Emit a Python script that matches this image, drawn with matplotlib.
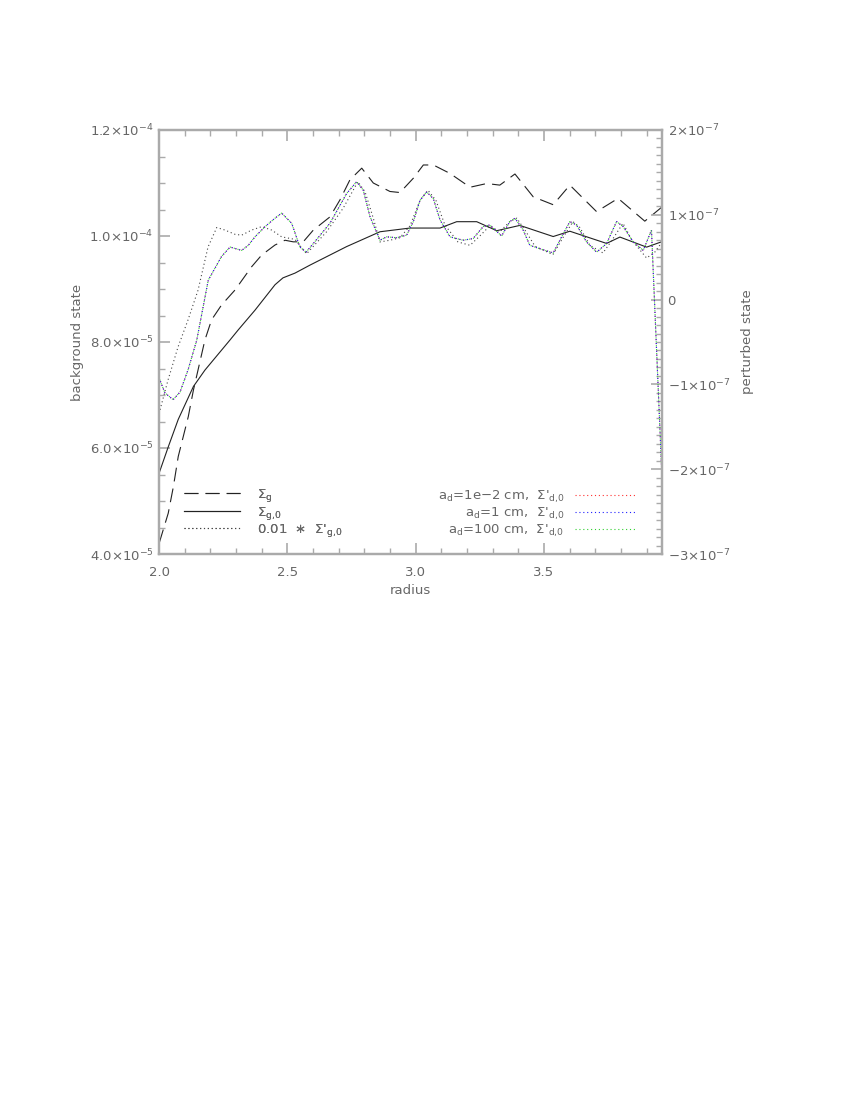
import matplotlib
matplotlib.use("Agg")
import matplotlib.pyplot as plt
from matplotlib.lines import Line2D
from matplotlib.ticker import FixedLocator, FixedFormatter, MultipleLocator

# ---------------- data ----------------
# background state (left axis, units of 1e-5)
sig_g_r = [2.001, 2.036, 2.056, 2.075, 2.114, 2.134, 2.179, 2.205, 2.244, 2.296, 2.361,
           2.400, 2.452, 2.491, 2.523, 2.562, 2.601, 2.666, 2.705, 2.744, 2.790, 2.835,
           2.900, 2.939, 2.991, 3.030, 3.069, 3.134, 3.212, 3.277, 3.328, 3.387, 3.458,
           3.536, 3.601, 3.705, 3.789, 3.893, 3.958]
sig_g = [4.21, 4.77, 5.27, 5.84, 6.59, 7.09, 8.04, 8.42, 8.70, 8.98, 9.42,
         9.64, 9.83, 9.92, 9.89, 9.89, 10.11, 10.36, 10.68, 11.06, 11.28, 11.00,
         10.84, 10.82, 11.09, 11.34, 11.34, 11.18, 10.92, 10.99, 10.96, 11.17, 10.74,
         10.59, 10.96, 10.46, 10.71, 10.28, 10.54]

sig_g0_r = [2.000, 2.036, 2.075, 2.134, 2.179, 2.277, 2.309, 2.374, 2.452, 2.483, 2.530,
            2.588, 2.731, 2.861, 2.978, 3.095, 3.160, 3.238, 3.316, 3.406, 3.536, 3.601,
            3.744, 3.796, 3.900, 3.958]
sig_g0 = [5.52, 6.02, 6.54, 7.16, 7.47, 8.04, 8.23, 8.60, 9.08, 9.21, 9.30,
          9.45, 9.80, 10.08, 10.15, 10.15, 10.27, 10.27, 10.10, 10.20, 9.99, 10.09,
          9.86, 9.98, 9.79, 9.89]

# perturbed state (right axis, units of 1e-7)
pert_g_r = [2.004, 2.035, 2.074, 2.113, 2.152, 2.191, 2.225, 2.257, 2.296, 2.322, 2.361,
            2.400, 2.439, 2.478, 2.530, 2.575, 2.653, 2.718, 2.775, 2.803, 2.835, 2.861,
            2.900, 2.939, 2.978, 3.017, 3.048, 3.079, 3.114, 3.165, 3.212, 3.250, 3.289,
            3.328, 3.367, 3.394, 3.426, 3.465, 3.535, 3.574, 3.613, 3.640, 3.679, 3.730,
            3.765, 3.808, 3.843, 3.900, 3.932, 3.958]
pert_g = [-1.30, -0.95, -0.56, -0.24, 0.11, 0.62, 0.85, 0.82, 0.77, 0.76, 0.82,
          0.86, 0.82, 0.74, 0.71, 0.54, 0.80, 1.08, 1.39, 1.27, 0.96, 0.68,
          0.70, 0.73, 0.87, 1.17, 1.29, 1.17, 0.88, 0.68, 0.64, 0.75, 0.87,
          0.80, 0.92, 0.96, 0.82, 0.63, 0.53, 0.73, 0.92, 0.85, 0.64, 0.55,
          0.70, 0.90, 0.70, 0.49, 0.56, 0.67]

dust_r = [2.000, 2.023, 2.055, 2.082, 2.113, 2.147, 2.192, 2.244, 2.277, 2.322, 2.348,
          2.374, 2.413, 2.452, 2.478, 2.517, 2.549, 2.573, 2.601, 2.666, 2.731, 2.770,
          2.796, 2.822, 2.861, 2.887, 2.926, 2.965, 2.991, 3.017, 3.043, 3.069, 3.095,
          3.134, 3.185, 3.224, 3.263, 3.289, 3.335, 3.367, 3.387, 3.419, 3.445, 3.484,
          3.536, 3.569, 3.601, 3.627, 3.666, 3.705, 3.744, 3.783, 3.809, 3.848, 3.887,
          3.919, 3.960]
dust_small = [-0.92, -1.10, -1.18, -1.09, -0.83, -0.48, 0.23, 0.51, 0.62, 0.58, 0.64,
              0.74, 0.86, 0.96, 1.02, 0.90, 0.62, 0.56, 0.66, 0.90, 1.25, 1.39,
              1.29, 0.98, 0.70, 0.74, 0.73, 0.76, 0.92, 1.17, 1.27, 1.19, 0.94,
              0.74, 0.70, 0.72, 0.86, 0.88, 0.75, 0.92, 0.96, 0.82, 0.64, 0.60,
              0.55, 0.74, 0.92, 0.88, 0.68, 0.56, 0.66, 0.92, 0.86, 0.68, 0.58,
              0.82, -2.10]
dust_mid = list(dust_small)
dust_big = list(dust_small)

left_ticks = [4.0, 6.0, 8.0, 10.0, 12.0]
left_labels = [r'4.0$\times$10$^{-5}$', r'6.0$\times$10$^{-5}$', r'8.0$\times$10$^{-5}$',
               r'1.0$\times$10$^{-4}$', r'1.2$\times$10$^{-4}$']
right_ticks = [-3, -2, -1, 0, 1, 2]
right_labels = [r'$-$3$\times$10$^{-7}$', r'$-$2$\times$10$^{-7}$', r'$-$1$\times$10$^{-7}$',
                '0', r'1$\times$10$^{-7}$', r'2$\times$10$^{-7}$']
x_ticks = [2.0, 2.5, 3.0, 3.5]
x_labels = ['2.0', '2.5', '3.0', '3.5']

# ---------------- style ----------------
TXT = '#666666'
AX = '#aaaaaa'
LINE = '#222222'
plt.rcParams['font.family'] = ['DejaVu Sans']
plt.rcParams['mathtext.default'] = 'regular'
plt.rcParams['mathtext.fontset'] = 'dejavusans'
FS = 9.5

fig = plt.figure(figsize=(8.5, 11), dpi=100)
ax = fig.add_axes([159/850, 1-554/1100, (662-159)/850, (554-130)/1100])
ax2 = ax.twinx()

dash = (0, (12.5, 6.5))
dot = (0, (1, 2.5))

l1, = ax.plot(sig_g_r, sig_g, color=LINE, lw=0.8, ls=dash)
l2, = ax.plot(sig_g0_r, sig_g0, color=LINE, lw=0.8, ls='-')
l3, = ax2.plot(pert_g_r, pert_g, color='#444444', lw=0.8, ls=dot)
d1, = ax2.plot(dust_r, dust_small, color='#ff3030', lw=0.8, ls=dot)
d2, = ax2.plot(dust_r, dust_mid, color='#2020ff', lw=0.8, ls=dot)
d3, = ax2.plot(dust_r, dust_big, color='#30d030', lw=0.8, ls=(1.5, (1, 2.5)))

ax.set_xlim(2.0, 3.96)
ax.set_ylim(4.0, 12.0)
ax2.set_ylim(-3, 2)

for a in (ax, ax2):
    for s in a.spines.values():
        s.set_color(AX)
        s.set_linewidth(1.6)

ax.xaxis.set_major_locator(FixedLocator(x_ticks))
ax.xaxis.set_major_formatter(FixedFormatter(x_labels))
ax.xaxis.set_minor_locator(MultipleLocator(0.1))
ax.yaxis.set_major_locator(FixedLocator(left_ticks))
ax.yaxis.set_major_formatter(FixedFormatter(left_labels))
ax.yaxis.set_minor_locator(MultipleLocator(0.5))
ax2.yaxis.set_major_locator(FixedLocator(right_ticks))
ax2.yaxis.set_major_formatter(FixedFormatter(right_labels))
ax2.yaxis.set_minor_locator(MultipleLocator(0.1))

ax.tick_params(axis='x', which='both', direction='in', top=True, bottom=True,
               colors=AX, labelcolor=TXT, labelsize=FS, pad=9)
ax.tick_params(axis='y', which='both', direction='in', left=True, right=False,
               colors=AX, labelcolor=TXT, labelsize=FS, pad=4)
ax.tick_params(which='major', length=8, width=1.2)
ax.tick_params(which='minor', length=4, width=1.0)
ax2.tick_params(axis='y', which='both', direction='in', colors=AX, labelcolor=TXT,
                labelsize=FS, pad=4)
ax2.tick_params(which='major', length=8, width=1.2)
ax2.tick_params(which='minor', length=4, width=1.0)

ax.set_xlabel('radius', color=TXT, fontsize=FS, labelpad=3)
ax.set_ylabel('background state', color=TXT, fontsize=FS, labelpad=4)
ax2.set_ylabel('perturbed state', color=TXT, fontsize=FS, labelpad=8)

# legends
h1 = [Line2D([], [], color=LINE, lw=0.8, ls=dash),
      Line2D([], [], color=LINE, lw=0.8, ls='-'),
      Line2D([], [], color='#444444', lw=0.8, ls=dot)]
lab1 = ["Σ$_{g}$", "Σ$_{g{,}0}$", "0.01  ∗  Σ'$_{g{,}0}$"]
leg1 = ax.legend(h1, lab1, loc='lower left', bbox_to_anchor=(0.05, 0.035),
                 frameon=False, fontsize=FS, handlelength=4.2, handletextpad=1.3,
                 labelspacing=0.05, borderpad=0, borderaxespad=0, labelcolor=TXT)
ax.add_artist(leg1)

h2 = [Line2D([], [], color='#ff3030', lw=0.8, ls=dot),
      Line2D([], [], color='#2020ff', lw=0.8, ls=dot),
      Line2D([], [], color='#30d030', lw=0.8, ls=dot)]
lab2 = ["a$_{d}$=1e−2 cm,  Σ'$_{d{,}0}$",
        "a$_{d}$=1 cm,  Σ'$_{d{,}0}$",
        "a$_{d}$=100 cm,  Σ'$_{d{,}0}$"]
leg2 = ax2.legend(h2, lab2, loc='lower right', bbox_to_anchor=(0.948, 0.035),
                  frameon=False, fontsize=FS, handlelength=4.6, handletextpad=0.8,
                  labelspacing=0.05, borderpad=0, borderaxespad=0, labelcolor=TXT,
                  markerfirst=False)

fig.savefig('out.png', dpi=100)
